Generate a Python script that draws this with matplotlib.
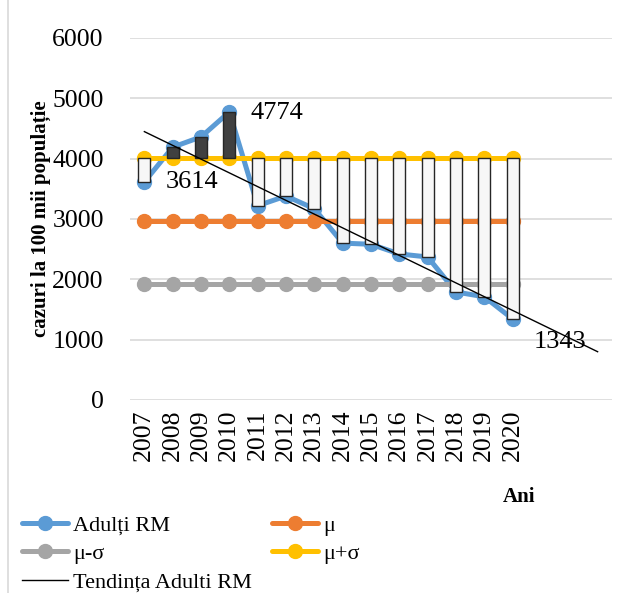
import numpy as np
import matplotlib
matplotlib.use("Agg")
import matplotlib.pyplot as plt
from matplotlib.lines import Line2D

years = ["2007", "2008", "2009", "2010", "2011", "2012", "2013",
         "2014", "2015", "2016", "2017", "2018", "2019", "2020"]
adulti = [3614, 4190, 4360, 4774, 3220, 3380, 3170,
          2600, 2580, 2420, 2370, 1790, 1710, 1343]
MU = 2966
MU_MINUS_SIGMA = 1925
MU_PLUS_SIGMA = 4007
# index, text, x offset, y offset of the value labels
labeled = [(0, "3614", 0.77, 0), (3, "4774", 0.75, -14), (13, "1343", 0.75, -380)]

plt.rcParams['font.family'] = ['Liberation Serif', 'DejaVu Serif']

BLUE = '#5B9BD5'
ORANGE = '#ED7D31'
GRAY = '#A5A5A5'
YELLOW = '#FFC000'

fig = plt.figure(figsize=(6.23, 5.93), dpi=100)
ax = fig.add_axes([0.209, 0.3255, 0.773, 0.6105])

x = np.arange(len(years))
n = len(years)

def flat(v):
    return [v] * n

line_kw = dict(lw=3.6, marker='o', ms=10, solid_capstyle='round')
ax.plot(x, adulti, color=BLUE, zorder=2, **line_kw)
ax.plot(x, flat(MU), color=ORANGE, zorder=2, **line_kw)
ax.plot(x, flat(MU_MINUS_SIGMA), color=GRAY, zorder=2, **line_kw)
ax.plot(x, flat(MU_PLUS_SIGMA), color=YELLOW, zorder=2, **line_kw)

# up/down bars between mu+sigma and the series
for i, v in enumerate(adulti):
    lo, hi = sorted((MU_PLUS_SIGMA, v))
    fc = '#404040' if v > MU_PLUS_SIGMA else '#F7F7F7'
    ax.bar(x[i], hi - lo, bottom=lo, width=0.42, color=fc,
           edgecolor='#262626', linewidth=1.0, zorder=3)

# linear trend, forecast two periods forward
k, b = np.polyfit(x, adulti, 1)
xt = np.array([0, n + 2])
ax.plot(xt, k * xt + b, color='black', lw=1.0, zorder=4)

for i, txt, dx, dy in labeled:
    ax.text(x[i] + dx, adulti[i] + dy, txt, fontsize=19, va='center',
            ha='left', zorder=5)

ax.set_xlim(-0.5, 16.5)
ax.set_ylim(0, 6000)
ax.set_yticks(range(0, 6001, 1000))
ax.set_xticks(x)
ax.set_xticklabels(years, rotation=90, fontsize=18.5)
ax.tick_params(axis='y', labelsize=18.5, length=0, pad=19)
ax.tick_params(axis='x', length=0, pad=7)
ax.grid(axis='y', color='#D9D9D9', lw=1.2)
ax.set_axisbelow(True)
for s in ax.spines.values():
    s.set_visible(False)

ax.set_ylabel('cazuri la 100 mii populație', fontsize=15, fontweight='bold', labelpad=1)
fig.text(0.833, 0.162, 'Ani', fontsize=15, fontweight='bold', ha='center', va='center')

handles = [
    Line2D([], [], color=BLUE, **line_kw),
    Line2D([], [], color=GRAY, **line_kw),
    Line2D([], [], color='black', lw=1.0),
    Line2D([], [], color=ORANGE, **line_kw),
    Line2D([], [], color=YELLOW, **line_kw),
]
labels = ['Adulți RM', 'μ-σ', 'Tendința Adulti RM', 'μ', 'μ+σ']
fig.legend(handles, labels, loc='upper left', bbox_to_anchor=(0.035, 0.131),
           ncol=2, frameon=False, fontsize=16, handlelength=2.1,
           handletextpad=0.2, labelspacing=0.35, columnspacing=0.9,
           borderpad=0, borderaxespad=0)

fig.add_artist(Line2D([0.013, 0.013], [0, 1], transform=fig.transFigure,
                      color='#D9D9D9', lw=1.2))

fig.savefig('out.png', dpi=100)
